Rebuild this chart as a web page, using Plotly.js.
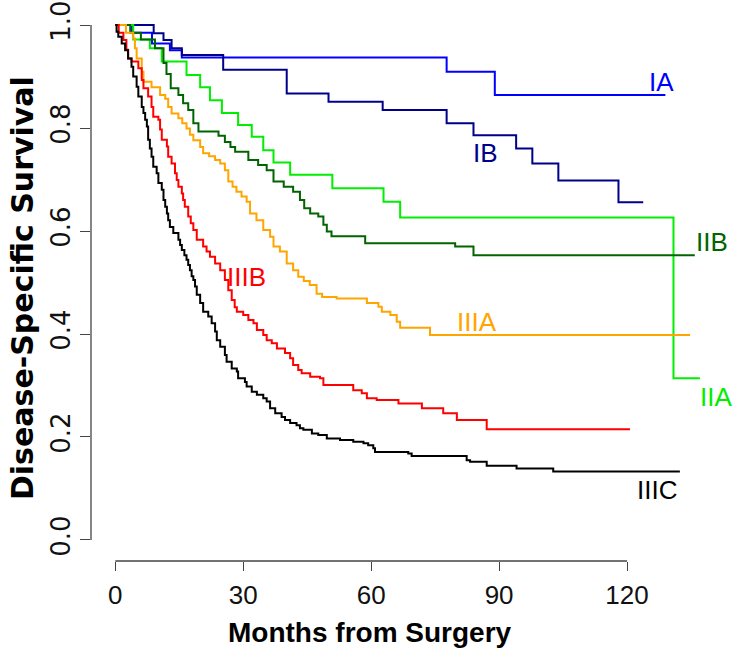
<!DOCTYPE html>
<html>
<head>
<meta charset="utf-8">
<script src="https://cdn.plot.ly/plotly-3.0.1.min.js"></script>
<style>
  html, body { margin: 0; padding: 0; background: #fff; }
  #chart { width: 740px; height: 657px; }
</style>
</head>
<body>
<div id="chart"></div>
<script>
// Kaplan-Meier disease-specific survival by stage (months, survival fraction)
var stages = ['IA', 'IB', 'IIA', 'IIB', 'IIIA', 'IIIB', 'IIIC'];

var monthsIA = [0, 3.9, 8.6, 12.8, 15.6, 77.7, 89, 129];
var survIA   = [1, 0.985, 0.964, 0.951, 0.937, 0.909, 0.864, 0.864];

var monthsIB = [0, 9, 11.3, 13.2, 15.6, 25.3, 40.2, 50, 62.7, 77.7, 84, 94, 97.8, 103.9, 118, 123.8];
var survIB   = [1, 0.984, 0.971, 0.955, 0.942, 0.913, 0.867, 0.851, 0.835, 0.809, 0.786, 0.760, 0.731, 0.698, 0.656, 0.656];

var monthsIIA = [0, 4.2, 8.1, 10.9, 16.7, 19.9, 22.2, 25, 28.8, 32, 34.7, 37.1, 41, 50.9, 62.9, 66.8, 130.9, 137.1];
var survIIA   = [1, 0.972, 0.955, 0.929, 0.903, 0.879, 0.854, 0.829, 0.806, 0.783, 0.757, 0.733, 0.709, 0.683, 0.657, 0.626, 0.314, 0.314];

var monthsIIB = [0, 3.5, 6, 9.3, 11.3, 12, 13, 14.8, 15.9, 17.1, 18.3, 19.5, 24.2, 25.7, 27, 28.1, 31.2, 33.5, 35.5, 37.1,
                 39.5, 41.7, 43.3, 44.3, 45.7, 47.6, 48.8, 49.6, 50.7, 58.6, 79.7, 84, 135.9];
var survIIB   = [1, 0.985, 0.972, 0.955, 0.926, 0.905, 0.877, 0.864, 0.848, 0.835, 0.809, 0.793, 0.785, 0.773, 0.763, 0.754, 0.738, 0.728, 0.718, 0.696,
                 0.686, 0.676, 0.660, 0.644, 0.634, 0.628, 0.612, 0.599, 0.590, 0.576, 0.570, 0.553, 0.553];

var monthsIIIA = [0, 2.5, 4.2, 4.6, 5, 6.2, 6.6, 8.5, 10.5, 11.7, 12.4, 13.2, 14.8, 15.7, 16.7, 17.5, 18.3, 19.9, 20.6, 22,
                  23.4, 24.6, 25.7, 26.5, 27.5, 28.4, 29.6, 30.8, 31.6, 33.1, 34.7, 36.3, 37.1, 38.6, 40.2, 41.7, 42.9, 44.2, 45.6, 47.2,
                  48.5, 51.9, 59, 61.7, 62.5, 64.5, 66, 66.8, 73.8, 134.8];
var survIIIA   = [1, 0.985, 0.974, 0.955, 0.935, 0.909, 0.890, 0.879, 0.864, 0.857, 0.841, 0.828, 0.819, 0.809, 0.799, 0.787, 0.776, 0.763, 0.751, 0.745,
                  0.738, 0.731, 0.718, 0.696, 0.686, 0.676, 0.667, 0.657, 0.634, 0.621, 0.602, 0.589, 0.570, 0.560, 0.537, 0.524, 0.511, 0.503, 0.495, 0.478,
                  0.472, 0.469, 0.460, 0.453, 0.443, 0.437, 0.424, 0.412, 0.398, 0.398];

var monthsIIIB = [0, 0.8, 1.9, 2.6, 3, 3.8, 5.4, 6.2, 6.6, 7.7, 8.5, 8.9, 10.1, 10.5, 10.9, 12.1, 12.4, 13.2, 14, 14.4,
                  14.8, 15.6, 15.9, 16.3, 17.1, 17.7, 18.3, 19.1, 20.6, 21.4, 22.2, 23.4, 24.6, 25.7, 26.5, 27.3, 28, 28.5, 30, 31.2,
                  32.4, 33.2, 34.7, 35.5, 36.7, 37.9, 39.8, 41, 41.7, 42.9, 43.7, 45.7, 48, 48.8, 55.8, 57.8, 59, 61.3, 66.4, 71.9,
                  76.9, 80.1, 87.1, 120.7];
var survIIIB   = [1, 0.985, 0.971, 0.952, 0.935, 0.929, 0.916, 0.893, 0.877, 0.861, 0.841, 0.822, 0.816, 0.797, 0.777, 0.764, 0.744, 0.731, 0.712, 0.699,
                  0.686, 0.673, 0.660, 0.647, 0.628, 0.615, 0.602, 0.583, 0.570, 0.560, 0.550, 0.537, 0.524, 0.505, 0.485, 0.466, 0.452, 0.443, 0.437, 0.427,
                  0.421, 0.408, 0.398, 0.388, 0.382, 0.372, 0.363, 0.353, 0.340, 0.330, 0.324, 0.317, 0.314, 0.301, 0.291, 0.285, 0.275, 0.272, 0.265, 0.256,
                  0.246, 0.233, 0.215, 0.215];

var monthsIIIC = [0, 0.3, 0.7, 1.5, 2.3, 3, 3.8, 4.2, 5, 5.4, 6.2, 6.6, 7, 7.4, 7.7, 8.1, 8.5, 8.9, 9.7, 10.1,
                  10.9, 11.3, 11.7, 12.1, 12.4, 12.8, 13.6, 14.8, 15.2, 15.6, 16.2, 16.7, 17.1, 17.5, 17.9, 18.3, 18.7, 19.1, 19.9, 20.6,
                  21.8, 22.6, 23.4, 23.8, 24.6, 25.7, 26.1, 27.3, 28.5, 28.8, 30.4, 30.8, 32, 33.2, 34.7, 35.5, 36.3, 37.5, 39, 39.8,
                  41, 42.5, 43.3, 44.1, 46.1, 47.6, 49.6, 52.7, 55.8, 58.2, 59.3, 60.5, 60.9, 68.7, 69.5, 82.4, 83.2, 87.1, 94.1, 102.7,
                  132.4];
var survIIIC   = [1, 0.987, 0.977, 0.964, 0.951, 0.935, 0.919, 0.900, 0.880, 0.861, 0.841, 0.829, 0.816, 0.803, 0.777, 0.760, 0.744, 0.725, 0.712, 0.693,
                  0.680, 0.660, 0.647, 0.634, 0.621, 0.608, 0.596, 0.583, 0.573, 0.563, 0.553, 0.544, 0.534, 0.524, 0.512, 0.505, 0.492, 0.476, 0.460, 0.443,
                  0.434, 0.421, 0.405, 0.388, 0.375, 0.359, 0.346, 0.333, 0.327, 0.314, 0.307, 0.298, 0.288, 0.282, 0.275, 0.269, 0.256, 0.246, 0.239, 0.233,
                  0.227, 0.223, 0.217, 0.214, 0.207, 0.204, 0.197, 0.194, 0.191, 0.188, 0.184, 0.178, 0.171, 0.168, 0.163, 0.155, 0.152, 0.144, 0.139, 0.133,
                  0.133];

var xTicks = [0, 30, 60, 90, 120];
var yTicks = [0, 0.2, 0.4, 0.6, 0.8, 1.0];
var yTickText = ['0.0', '0.2', '0.4', '0.6', '0.8', '1.0'];

var colors = {
  IA: '#0000ff', IB: '#00008b', IIA: '#00ee00', IIB: '#006400',
  IIIA: '#ffa500', IIIB: '#ff0000', IIIC: '#000000'
};

var sans = 'Liberation Sans, Arial, sans-serif';

function kmTrace(x, y, stage) {
  return {
    x: x, y: y, name: stage,
    type: 'scatter', mode: 'lines',
    line: {shape: 'hv', color: colors[stage], width: 2},
    hoverinfo: 'skip', showlegend: false
  };
}

var data = [
  kmTrace(monthsIA, survIA, 'IA'),
  kmTrace(monthsIB, survIB, 'IB'),
  kmTrace(monthsIIA, survIIA, 'IIA'),
  kmTrace(monthsIIB, survIIB, 'IIB'),
  kmTrace(monthsIIIA, survIIIA, 'IIIA'),
  kmTrace(monthsIIIB, survIIIB, 'IIIB'),
  kmTrace(monthsIIIC, survIIIC, 'IIIC')
];

// where each stage name sits (months, survival)
var labelAt = {
  IA: [128, 0.889], IB: [86.7, 0.751], IIA: [140.9, 0.278], IIB: [140, 0.579],
  IIIA: [84.8, 0.423], IIIB: [30.7, 0.511], IIIC: [127, 0.097]
};

var annotations = stages.map(function(s) {
  return {
    x: labelAt[s][0], y: labelAt[s][1], xref: 'x', yref: 'y',
    text: s, showarrow: false,
    font: {family: sans, size: 26, color: colors[s]}
  };
});

annotations.push({
  text: '<b>Months from Surgery</b>', showarrow: false,
  xref: 'paper', yref: 'paper', x: 0.43, y: -0.1275,
  xanchor: 'center', yanchor: 'middle',
  font: {family: sans, size: 28, color: '#000'}
});
annotations.push({
  text: '<b>Disease-Specific Survival</b>', showarrow: false, textangle: -90,
  xref: 'paper', yref: 'paper', x: -0.1063, y: 0.49,
  xanchor: 'center', yanchor: 'middle',
  font: {family: 'DejaVu Sans, sans-serif', size: 30, color: '#000'}
});

var axisColor = '#444';

var layout = {
  width: 740,
  height: 657,
  margin: {l: 91, r: 0, t: 4, b: 96},
  paper_bgcolor: '#fff',
  plot_bgcolor: '#fff',
  showlegend: false,
  xaxis: {
    range: [-5.7, 146.5],
    tickvals: xTicks,
    ticks: 'outside', ticklen: 9, tickwidth: 1, tickcolor: axisColor,
    ticklabelstandoff: 2,
    showgrid: false, zeroline: false, showline: false,
    tickfont: {family: sans, size: 26, color: '#111'}
  },
  yaxis: {
    range: [-0.0408, 1.0408],
    tickvals: yTicks, ticktext: yTickText, tickangle: -90,
    ticks: 'outside', ticklen: 10, tickwidth: 1, tickcolor: axisColor,
    ticklabelstandoff: 0,
    showgrid: false, zeroline: false, showline: false,
    tickfont: {family: 'DejaVu Sans, sans-serif', size: 26, color: '#111'}
  },
  shapes: [
    // R-style axis lines that run only from first to last tick
    {type: 'line', xref: 'paper', yref: 'y', x0: 0, x1: 0, y0: 0, y1: 1,
     line: {color: axisColor, width: 1.3}},
    {type: 'line', xref: 'x', yref: 'paper', x0: 0, x1: 120, y0: 0, y1: 0,
     line: {color: axisColor, width: 1.3}}
  ],
  annotations: annotations
};

Plotly.newPlot('chart', data, layout, {displayModeBar: false, staticPlot: true});
</script>
</body>
</html>
